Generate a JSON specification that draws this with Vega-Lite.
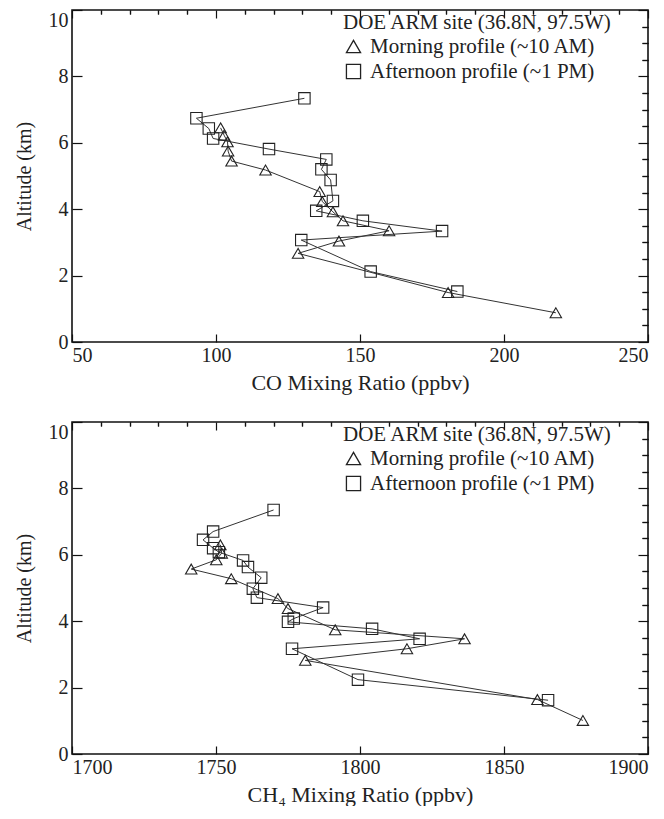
{
  "$schema": "https://vega.github.io/schema/vega-lite/v6.json",
  "padding": {"left": 13, "top": 8, "right": 5, "bottom": 0},
  "background": "white",
  "datasets": {
    "co": [
      {"ppbv": 101.6, "alt": 6.45, "profile": "Morning profile (~10 AM)"},
      {"ppbv": 102.8, "alt": 6.23, "profile": "Morning profile (~10 AM)"},
      {"ppbv": 104.0, "alt": 6.03, "profile": "Morning profile (~10 AM)"},
      {"ppbv": 104.2, "alt": 5.75, "profile": "Morning profile (~10 AM)"},
      {"ppbv": 105.4, "alt": 5.45, "profile": "Morning profile (~10 AM)"},
      {"ppbv": 117.2, "alt": 5.18, "profile": "Morning profile (~10 AM)"},
      {"ppbv": 136.0, "alt": 4.53, "profile": "Morning profile (~10 AM)"},
      {"ppbv": 136.9, "alt": 4.23, "profile": "Morning profile (~10 AM)"},
      {"ppbv": 140.6, "alt": 3.92, "profile": "Morning profile (~10 AM)"},
      {"ppbv": 144.1, "alt": 3.65, "profile": "Morning profile (~10 AM)"},
      {"ppbv": 160.1, "alt": 3.35, "profile": "Morning profile (~10 AM)"},
      {"ppbv": 142.7, "alt": 3.04, "profile": "Morning profile (~10 AM)"},
      {"ppbv": 128.5, "alt": 2.67, "profile": "Morning profile (~10 AM)"},
      {"ppbv": 180.6, "alt": 1.49, "profile": "Morning profile (~10 AM)"},
      {"ppbv": 218.0, "alt": 0.88, "profile": "Morning profile (~10 AM)"},
      {"ppbv": 130.7, "alt": 7.34, "profile": "Afternoon profile (~1 PM)"},
      {"ppbv": 93.2, "alt": 6.74, "profile": "Afternoon profile (~1 PM)"},
      {"ppbv": 97.5, "alt": 6.43, "profile": "Afternoon profile (~1 PM)"},
      {"ppbv": 99.0, "alt": 6.13, "profile": "Afternoon profile (~1 PM)"},
      {"ppbv": 118.4, "alt": 5.81, "profile": "Afternoon profile (~1 PM)"},
      {"ppbv": 138.3, "alt": 5.5, "profile": "Afternoon profile (~1 PM)"},
      {"ppbv": 136.6, "alt": 5.2, "profile": "Afternoon profile (~1 PM)"},
      {"ppbv": 139.8, "alt": 4.88, "profile": "Afternoon profile (~1 PM)"},
      {"ppbv": 140.6, "alt": 4.25, "profile": "Afternoon profile (~1 PM)"},
      {"ppbv": 134.8, "alt": 3.95, "profile": "Afternoon profile (~1 PM)"},
      {"ppbv": 151.0, "alt": 3.65, "profile": "Afternoon profile (~1 PM)"},
      {"ppbv": 178.5, "alt": 3.34, "profile": "Afternoon profile (~1 PM)"},
      {"ppbv": 129.6, "alt": 3.07, "profile": "Afternoon profile (~1 PM)"},
      {"ppbv": 153.7, "alt": 2.12, "profile": "Afternoon profile (~1 PM)"},
      {"ppbv": 183.8, "alt": 1.52, "profile": "Afternoon profile (~1 PM)"}
    ],
    "ch4": [
      {"ppbv": 1751.5, "alt": 6.3, "profile": "Morning profile (~10 AM)"},
      {"ppbv": 1752.0, "alt": 6.05, "profile": "Morning profile (~10 AM)"},
      {"ppbv": 1750.1, "alt": 5.85, "profile": "Morning profile (~10 AM)"},
      {"ppbv": 1741.4, "alt": 5.57, "profile": "Morning profile (~10 AM)"},
      {"ppbv": 1755.3, "alt": 5.28, "profile": "Morning profile (~10 AM)"},
      {"ppbv": 1771.5, "alt": 4.68, "profile": "Morning profile (~10 AM)"},
      {"ppbv": 1775.0, "alt": 4.38, "profile": "Morning profile (~10 AM)"},
      {"ppbv": 1791.4, "alt": 3.74, "profile": "Morning profile (~10 AM)"},
      {"ppbv": 1836.3, "alt": 3.47, "profile": "Morning profile (~10 AM)"},
      {"ppbv": 1816.3, "alt": 3.17, "profile": "Morning profile (~10 AM)"},
      {"ppbv": 1781.0, "alt": 2.82, "profile": "Morning profile (~10 AM)"},
      {"ppbv": 1861.6, "alt": 1.64, "profile": "Morning profile (~10 AM)"},
      {"ppbv": 1877.4, "alt": 1.01, "profile": "Morning profile (~10 AM)"},
      {"ppbv": 1770.0, "alt": 7.35, "profile": "Afternoon profile (~1 PM)"},
      {"ppbv": 1749.0, "alt": 6.7, "profile": "Afternoon profile (~1 PM)"},
      {"ppbv": 1745.5, "alt": 6.45, "profile": "Afternoon profile (~1 PM)"},
      {"ppbv": 1749.0, "alt": 6.2, "profile": "Afternoon profile (~1 PM)"},
      {"ppbv": 1751.0, "alt": 6.08, "profile": "Afternoon profile (~1 PM)"},
      {"ppbv": 1759.4, "alt": 5.83, "profile": "Afternoon profile (~1 PM)"},
      {"ppbv": 1761.1, "alt": 5.63, "profile": "Afternoon profile (~1 PM)"},
      {"ppbv": 1765.7, "alt": 5.31, "profile": "Afternoon profile (~1 PM)"},
      {"ppbv": 1762.8, "alt": 4.98, "profile": "Afternoon profile (~1 PM)"},
      {"ppbv": 1764.2, "alt": 4.71, "profile": "Afternoon profile (~1 PM)"},
      {"ppbv": 1787.2, "alt": 4.41, "profile": "Afternoon profile (~1 PM)"},
      {"ppbv": 1777.0, "alt": 4.08, "profile": "Afternoon profile (~1 PM)"},
      {"ppbv": 1775.0, "alt": 3.98, "profile": "Afternoon profile (~1 PM)"},
      {"ppbv": 1804.2, "alt": 3.77, "profile": "Afternoon profile (~1 PM)"},
      {"ppbv": 1820.7, "alt": 3.47, "profile": "Afternoon profile (~1 PM)"},
      {"ppbv": 1776.4, "alt": 3.17, "profile": "Afternoon profile (~1 PM)"},
      {"ppbv": 1799.3, "alt": 2.24, "profile": "Afternoon profile (~1 PM)"},
      {"ppbv": 1865.3, "alt": 1.62, "profile": "Afternoon profile (~1 PM)"}
    ]
  },
  "resolve": {"scale": {"shape": "independent"}, "legend": {"shape": "independent"}},
  "spacing": 26,
  "vconcat": [
    {
      "width": 576,
      "height": 332,
      "data": {"name": "co"},
      "resolve": {"axis": {"x": "independent", "y": "independent"}},
      "layer": [
        {
          "transform": [{"filter": "datum.profile === 'Morning profile (~10 AM)'"}],
          "mark": {"type": "line", "color": "#333", "strokeWidth": 1},
          "encoding": {
            "x": {"field": "ppbv", "type": "quantitative", "scale": {"domain": [50, 250], "nice": false, "zero": false},
                  "axis": {"values": [50, 100, 150, 200, 250], "title": "CO Mixing Ratio (ppbv)", "offset": -8, "tickSize": 8, "labelPadding": 3, "titlePadding": 7}},
            "y": {"field": "alt", "type": "quantitative", "scale": {"domain": [0, 10], "nice": false},
                  "axis": {"values": [0, 2, 4, 6, 8, 10], "title": "Altitude (km)", "offset": -10, "tickSize": 10, "labelPadding": 4, "titlePadding": 14,
                           "labelBaseline": {"condition": {"test": "datum.value === 10", "value": "top"}, "value": "middle"}}},
            "order": {"field": "alt", "type": "quantitative"}
          }
        },
        {
          "transform": [{"filter": "datum.profile === 'Afternoon profile (~1 PM)'"}],
          "mark": {"type": "line", "color": "#333", "strokeWidth": 1},
          "encoding": {
            "x": {"field": "ppbv", "type": "quantitative",
                  "axis": {"values": [60, 70, 80, 90, 110, 120, 130, 140, 160, 170, 180, 190, 210, 220, 230, 240], "labels": false, "title": null, "offset": -4, "tickSize": 4}},
            "y": {"field": "alt", "type": "quantitative",
                  "axis": {"values": [0.5, 1, 1.5, 2.5, 3, 3.5, 4.5, 5, 5.5, 6.5, 7, 7.5, 8.5, 9, 9.5], "labels": false, "title": null, "offset": -6, "tickSize": 6}},
            "order": {"field": "alt", "type": "quantitative"}
          }
        },
        {
          "mark": {"type": "point", "filled": false, "color": "#222", "strokeWidth": 1.1, "size": 130, "opacity": 1},
          "encoding": {
            "x": {"field": "ppbv", "type": "quantitative",
                  "axis": {"orient": "top", "values": [50, 100, 150, 200, 250], "labels": false, "title": null, "offset": -8, "tickSize": 8}},
            "y": {"field": "alt", "type": "quantitative",
                  "axis": {"orient": "right", "values": [0, 2, 4, 6, 8, 10], "labels": false, "title": null, "offset": -10, "tickSize": 10}},
            "shape": {"field": "profile", "type": "nominal",
                      "scale": {"domain": ["Morning profile (~10 AM)", "Afternoon profile (~1 PM)"], "range": ["triangle-up", "square"]},
                      "legend": {"title": "DOE ARM site (36.8N, 97.5W)", "orient": "none", "legendX": 271, "legendY": 2}}
          }
        },
        {
          "mark": {"type": "point", "filled": false, "opacity": 0},
          "encoding": {
            "x": {"field": "ppbv", "type": "quantitative",
                  "axis": {"orient": "top", "values": [60, 70, 80, 90, 110, 120, 130, 140, 160, 170, 180, 190, 210, 220, 230, 240], "labels": false, "title": null, "offset": -4, "tickSize": 4}},
            "y": {"field": "alt", "type": "quantitative",
                  "axis": {"orient": "right", "values": [0.5, 1, 1.5, 2.5, 3, 3.5, 4.5, 5, 5.5, 6.5, 7, 7.5, 8.5, 9, 9.5], "labels": false, "title": null, "offset": -6, "tickSize": 6}}
          }
        }
      ]
    },
    {
      "width": 576,
      "height": 332,
      "data": {"name": "ch4"},
      "resolve": {"axis": {"x": "independent", "y": "independent"}},
      "layer": [
        {
          "transform": [{"filter": "datum.profile === 'Morning profile (~10 AM)'"}],
          "mark": {"type": "line", "color": "#333", "strokeWidth": 1},
          "encoding": {
            "x": {"field": "ppbv", "type": "quantitative", "scale": {"domain": [1700, 1900], "nice": false, "zero": false},
                  "axis": {"values": [1700, 1750, 1800, 1850, 1900], "format": "d", "title": "CH₄ Mixing Ratio (ppbv)", "offset": -8, "tickSize": 8, "labelPadding": 3, "titlePadding": 7}},
            "y": {"field": "alt", "type": "quantitative", "scale": {"domain": [0, 10], "nice": false},
                  "axis": {"values": [0, 2, 4, 6, 8, 10], "title": "Altitude (km)", "offset": -10, "tickSize": 10, "labelPadding": 4, "titlePadding": 14,
                           "labelBaseline": {"condition": {"test": "datum.value === 10", "value": "top"}, "value": "middle"}}},
            "order": {"field": "alt", "type": "quantitative"}
          }
        },
        {
          "transform": [{"filter": "datum.profile === 'Afternoon profile (~1 PM)'"}],
          "mark": {"type": "line", "color": "#333", "strokeWidth": 1},
          "encoding": {
            "x": {"field": "ppbv", "type": "quantitative",
                  "axis": {"values": [1710, 1720, 1730, 1740, 1760, 1770, 1780, 1790, 1810, 1820, 1830, 1840, 1860, 1870, 1880, 1890], "labels": false, "title": null, "offset": -4, "tickSize": 4}},
            "y": {"field": "alt", "type": "quantitative",
                  "axis": {"values": [0.5, 1, 1.5, 2.5, 3, 3.5, 4.5, 5, 5.5, 6.5, 7, 7.5, 8.5, 9, 9.5], "labels": false, "title": null, "offset": -6, "tickSize": 6}},
            "order": {"field": "alt", "type": "quantitative"}
          }
        },
        {
          "mark": {"type": "point", "filled": false, "color": "#222", "strokeWidth": 1.1, "size": 130, "opacity": 1},
          "encoding": {
            "x": {"field": "ppbv", "type": "quantitative",
                  "axis": {"orient": "top", "values": [1700, 1750, 1800, 1850, 1900], "labels": false, "title": null, "offset": -8, "tickSize": 8}},
            "y": {"field": "alt", "type": "quantitative",
                  "axis": {"orient": "right", "values": [0, 2, 4, 6, 8, 10], "labels": false, "title": null, "offset": -10, "tickSize": 10}},
            "shape": {"field": "profile", "type": "nominal",
                      "scale": {"domain": ["Morning profile (~10 AM)", "Afternoon profile (~1 PM)"], "range": ["triangle-up", "square"]},
                      "legend": {"title": "DOE ARM site (36.8N, 97.5W)", "orient": "none", "legendX": 271, "legendY": 2}}
          }
        },
        {
          "mark": {"type": "point", "filled": false, "opacity": 0},
          "encoding": {
            "x": {"field": "ppbv", "type": "quantitative",
                  "axis": {"orient": "top", "values": [1710, 1720, 1730, 1740, 1760, 1770, 1780, 1790, 1810, 1820, 1830, 1840, 1860, 1870, 1880, 1890], "labels": false, "title": null, "offset": -4, "tickSize": 4}},
            "y": {"field": "alt", "type": "quantitative",
                  "axis": {"orient": "right", "values": [0.5, 1, 1.5, 2.5, 3, 3.5, 4.5, 5, 5.5, 6.5, 7, 7.5, 8.5, 9, 9.5], "labels": false, "title": null, "offset": -6, "tickSize": 6}}
          }
        }
      ]
    }
  ],
  "config": {
    "font": "Liberation Serif",
    "view": {"stroke": "#111", "strokeWidth": 1.6},
    "axis": {
      "grid": false,
      "domain": false,
      "tickColor": "#111",
      "tickWidth": 1.2,
      "labelFont": "Liberation Serif",
      "labelFontSize": 20,
      "labelColor": "#222",
      "titleFont": "Liberation Serif",
      "titleFontSize": 20,
      "titleFontWeight": "normal",
      "titleColor": "#222"
    },
    "axisX": {"titleFontSize": 22},
    "legend": {
      "titleFont": "Liberation Serif",
      "titleFontSize": 21,
      "titleFontWeight": "normal",
      "titleColor": "#222",
      "titleLimit": 400,
      "titlePadding": 3,
      "labelFont": "Liberation Serif",
      "labelFontSize": 21,
      "labelColor": "#222",
      "labelLimit": 400,
      "labelOffset": 6,
      "symbolSize": 200,
      "symbolStrokeColor": "#222",
      "symbolStrokeWidth": 1.3,
      "symbolFillColor": "transparent",
      "rowPadding": 3,
      "padding": 0
    }
  }
}
